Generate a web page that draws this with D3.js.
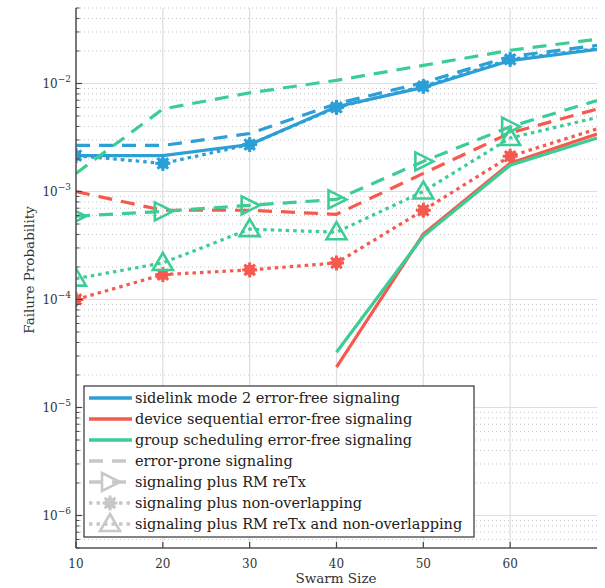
<!DOCTYPE html>
<html><head><meta charset="utf-8">
<script src="https://cdn.jsdelivr.net/npm/d3@7"></script>
<style>body{margin:0;background:#fff}svg{display:block}text{font-family:"DejaVu Serif",serif}</style>
</head><body>
<svg id="c" width="605" height="588"></svg>
<script>
const swarm = [10,20,30,40,50,60,70];
const xTicks = [10,20,30,40,50,60];
const yDecades = [-6,-5,-4,-3,-2];

const blueFree   = [2.15e-3,2.15e-3,2.72e-3,6.1e-3,9.2e-3,1.63e-2,2.07e-2];
const blueProne  = [2.67e-3,2.67e-3,3.44e-3,6.5e-3,1.02e-2,1.78e-2,2.25e-2];
const blueNonOv  = [2.15e-3,1.82e-3,2.72e-3,6.0e-3,9.4e-3,1.67e-2,2.1e-2];
const redFree    = [null,null,null,2.37e-5,4.04e-4,1.83e-3,3.41e-3];
const redProne   = [1.0e-3,6.7e-4,6.7e-4,6.15e-4,1.47e-3,3.48e-3,5.8e-3];
const redNonOv   = [1.0e-4,1.7e-4,1.88e-4,2.18e-4,6.7e-4,2.12e-3,3.8e-3];
const greenFree  = [null,null,null,3.25e-5,3.87e-4,1.75e-3,3.13e-3];
const greenProne = [1.47e-3,5.8e-3,8.2e-3,1.07e-2,1.47e-2,2.03e-2,2.57e-2];
const greenReTx  = [5.9e-4,6.55e-4,7.45e-4,8.45e-4,1.9e-3,3.98e-3,6.96e-3];
const greenBoth  = [1.56e-4,2.18e-4,4.48e-4,4.2e-4,1.0e-3,3.13e-3,4.84e-3];

const legendLabels = ["sidelink mode 2 error-free signaling","device sequential error-free signaling","group scheduling error-free signaling","error-prone signaling","signaling plus RM reTx","signaling plus non-overlapping","signaling plus RM reTx and non-overlapping"];

const BLUE="#2b9fd6", RED="#f65a4f", GREEN="#3ccd96", GRAY="#c8c8c8";
const styles = {
  solid:{dash:null},
  dashed:{dash:"14,9"},
  dotted:{dash:"3.5,4"}
};
const series = [
  {v:blueProne, c:BLUE, s:"dashed", m:null},
  {v:blueFree, c:BLUE, s:"solid", m:null},
  {v:blueNonOv, c:BLUE, s:"dotted", m:"ast"},
  {v:redProne, c:RED, s:"dashed", m:null},
  {v:redFree, c:RED, s:"solid", m:null},
  {v:redNonOv, c:RED, s:"dotted", m:"ast"},
  {v:greenProne, c:GREEN, s:"dashed", m:null},
  {v:greenFree, c:GREEN, s:"solid", m:null},
  {v:greenReTx, c:GREEN, s:"dashed", m:"tri-r"},
  {v:greenBoth, c:GREEN, s:"dotted", m:"tri-u"}
];

const svg = d3.select("#c");
const L=76, R=597, T=8, B=548;
const x = d3.scaleLinear().domain([10,70]).range([L,R]);
const y = d3.scaleLog().domain([5e-7,5e-2]).range([B,T]);

// grid
const g = svg.append("g");
const minors=[];
for (let d=-7; d<=-2; d++) for (let k=2;k<=9;k++){const v=k*Math.pow(10,d); if(v>=5e-7&&v<=5e-2) minors.push(v);}
g.selectAll(".mn").data(minors).enter().append("line")
  .attr("x1",L).attr("x2",R).attr("y1",d=>y(d)).attr("y2",d=>y(d))
  .attr("stroke","#c4c4c4").attr("stroke-width",1).attr("stroke-dasharray","1,3");
g.selectAll(".mj").data(yDecades).enter().append("line")
  .attr("x1",L).attr("x2",R).attr("y1",d=>y(Math.pow(10,d))).attr("y2",d=>y(Math.pow(10,d)))
  .attr("stroke","#dedede").attr("stroke-width",1.2);
g.selectAll(".vx").data(xTicks.slice(1)).enter().append("line")
  .attr("x1",d=>x(d)).attr("x2",d=>x(d)).attr("y1",T).attr("y2",B)
  .attr("stroke","#dedede").attr("stroke-width",1.2);

// series
svg.append("clipPath").attr("id","cp").append("rect").attr("x",L).attr("y",T).attr("width",R-L).attr("height",B-T);
const sg = svg.append("g").attr("clip-path","url(#cp)");
const line = d3.line().defined(d=>d[1]!=null).x(d=>x(d[0])).y(d=>y(d[1]));

function marker(gp, type, cx, cy, col){
  if(type==="ast"){
    gp.append("circle").attr("cx",cx).attr("cy",cy).attr("r",5.5).attr("fill",col);
    for(let i=0;i<8;i++){const a=i*Math.PI/4;
      gp.append("line").attr("x1",cx).attr("y1",cy).attr("x2",cx+7.5*Math.cos(a)).attr("y2",cy+7.5*Math.sin(a))
        .attr("stroke",col).attr("stroke-width",3);}
  } else if(type==="tri-r"){
    gp.append("path").attr("d",`M${cx-8},${cy-9}L${cx+10},${cy}L${cx-8},${cy+9}Z`)
      .attr("fill","none").attr("stroke",col).attr("stroke-width",2.6).attr("stroke-linejoin","miter");
  } else if(type==="tri-u"){
    gp.append("path").attr("d",`M${cx},${cy-10}L${cx+10},${cy+7}L${cx-10},${cy+7}Z`)
      .attr("fill","none").attr("stroke",col).attr("stroke-width",2.6);
  }
}

series.forEach(s=>{
  const pts = swarm.map((xv,i)=>[xv,s.v[i]]);
  sg.append("path").attr("d",line(pts)).attr("fill","none").attr("stroke",s.c)
    .attr("stroke-width",3.2).attr("stroke-dasharray",styles[s.s].dash);
  if(s.m){
    pts.slice(0,6).forEach(p=>{ if(p[1]!=null) marker(sg,s.m,x(p[0]),y(p[1]),s.c); });
  }
});

// axes
const ax = svg.append("g");
ax.append("line").attr("x1",L).attr("x2",L).attr("y1",T).attr("y2",B).attr("stroke","#555").attr("stroke-width",1.6);
ax.append("line").attr("x1",L).attr("x2",R).attr("y1",B).attr("y2",B).attr("stroke","#555").attr("stroke-width",1.6);
xTicks.forEach(t=>{
  ax.append("line").attr("x1",x(t)).attr("x2",x(t)).attr("y1",B).attr("y2",B-6).attr("stroke","#444").attr("stroke-width",1.2);
  ax.append("text").attr("x",x(t)).attr("y",B+20).attr("text-anchor","middle")
    .attr("font-size",12).attr("fill","#333").text(t);
});
minors.forEach(v=>{
  ax.append("line").attr("x1",L).attr("x2",L+3.5).attr("y1",y(v)).attr("y2",y(v)).attr("stroke","#444").attr("stroke-width",1);
});
yDecades.forEach(d=>{
  const yy=y(Math.pow(10,d));
  ax.append("line").attr("x1",L).attr("x2",L+6).attr("y1",yy).attr("y2",yy).attr("stroke","#444").attr("stroke-width",1.2);
  const t=ax.append("text").attr("x",L-5).attr("y",yy+4.5).attr("text-anchor","end")
    .attr("font-size",12).attr("fill","#333");
  t.append("tspan").text("10");
  t.append("tspan").attr("dy",-6).attr("font-size",9).text("\u2212"+Math.abs(d));
});
svg.append("text").attr("x",336).attr("y",583).attr("text-anchor","middle")
  .attr("font-size",13.5).attr("fill","#333").text("Swarm Size");
svg.append("text").attr("transform","translate(34,270) rotate(-90)").attr("text-anchor","middle")
  .attr("font-size",13.5).attr("fill","#333").text("Failure Probability");

// legend
const lg = svg.append("g");
lg.append("rect").attr("x",84).attr("y",386).attr("width",390).attr("height",151)
  .attr("fill","#fff").attr("stroke","#333").attr("stroke-width",1.2);
const legItems = [
  {c:BLUE,s:"solid",m:null},{c:RED,s:"solid",m:null},{c:GREEN,s:"solid",m:null},
  {c:GRAY,s:"dashed",m:null},{c:GRAY,s:"dashed",m:"tri-r"},{c:GRAY,s:"dotted",m:"ast"},{c:GRAY,s:"dotted",m:"tri-u"}
];
legItems.forEach((it,i)=>{
  const yy = 398 + i*21;
  lg.append("line").attr("x1",89).attr("x2",132).attr("y1",yy).attr("y2",yy)
    .attr("stroke",it.c).attr("stroke-width",3.6).attr("stroke-dasharray",styles[it.s].dash);
  if(it.m){ const mg=lg.append("g"); marker(mg,it.m,110,yy,it.c); }
  lg.append("text").attr("x",135).attr("y",yy+5).attr("font-size",14.5)
    .attr("fill","#222").attr("textLength",null).text(legendLabels[i]);
});
</script>
</body></html>
